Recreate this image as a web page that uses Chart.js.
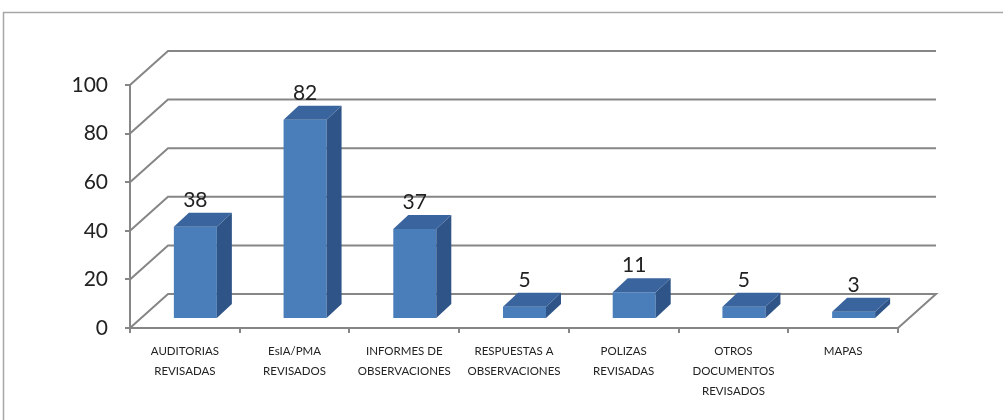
<!DOCTYPE html>
<html>
<head>
<meta charset="utf-8">
<script src="https://cdn.jsdelivr.net/npm/chart.js@4.4.1/dist/chart.umd.min.js"></script>
<style>
  html, body { margin: 0; padding: 0; background: #ffffff; }
  #wrap { width: 1003px; height: 420px; position: relative; }
</style>
</head>
<body>
<div id="wrap"><canvas id="c" width="1003" height="420"></canvas></div>
<script>
// ---- data ----
const categories = [
  ["AUDITORIAS", "REVISADAS"],
  ["EsIA/PMA", "REVISADOS"],
  ["INFORMES DE", "OBSERVACIONES"],
  ["RESPUESTAS A", "OBSERVACIONES"],
  ["POLIZAS", "REVISADAS"],
  ["OTROS", "DOCUMENTOS", "REVISADOS"],
  ["MAPAS"]
];
const values = [38, 82, 37, 5, 11, 5, 3];
const yTicks = [0, 20, 40, 60, 80, 100];

// ---- style ----
const FONT = "Lato, 'Open Sans', sans-serif";
const GRID = '#868686';
const wallDepth = { dx: 38, dy: -34 };
const barShift = { dx: 10.5, dy: -9 };
const barDepth = { dx: 15, dy: -14 };
const FRONT = '#4a7ebb';
const SIDE = '#2f5487';
const TOP = '#3a649e';

const threeD = {
  id: 'threeD',
  beforeDraw(chart) {
    const ctx = chart.ctx;
    ctx.save();
    ctx.fillStyle = '#ffffff';
    ctx.fillRect(0, 0, chart.width, chart.height);
    ctx.strokeStyle = '#a6a6a6';
    ctx.lineWidth = 1.5;
    ctx.strokeRect(3.5, 12.5, 1200, 600);
    ctx.restore();
  },
  beforeDatasetsDraw(chart) {
    const ctx = chart.ctx;
    const a = chart.chartArea;
    const ys = chart.scales.y;
    ctx.save();
    ctx.strokeStyle = GRID;
    ctx.lineWidth = 2;
    yTicks.forEach(v => {
      const y = ys.getPixelForValue(v);
      ctx.beginPath();
      ctx.moveTo(a.left, y);
      ctx.lineTo(a.left + wallDepth.dx, y + wallDepth.dy);
      ctx.lineTo(a.right + wallDepth.dx, y + wallDepth.dy);
      if (v === 0) ctx.lineTo(a.right, y);
      ctx.stroke();
    });
    ctx.restore();
    ctx.save();
    ctx.translate(barShift.dx, barShift.dy);
  },
  afterDatasetsDraw(chart) {
    const ctx = chart.ctx;
    const meta = chart.getDatasetMeta(0);
    meta.data.forEach((bar, i) => {
      const p = bar.getProps(['x', 'y', 'base', 'width'], true);
      const xl = p.x - p.width / 2, xr = p.x + p.width / 2;
      const yt = p.y, yb = p.base;
      ctx.fillStyle = SIDE;
      ctx.beginPath();
      ctx.moveTo(xr, yt);
      ctx.lineTo(xr + barDepth.dx, yt + barDepth.dy);
      ctx.lineTo(xr + barDepth.dx, yb + barDepth.dy);
      ctx.lineTo(xr, yb);
      ctx.closePath();
      ctx.fill();
      ctx.fillStyle = TOP;
      ctx.beginPath();
      ctx.moveTo(xl, yt);
      ctx.lineTo(xl + barDepth.dx, yt + barDepth.dy);
      ctx.lineTo(xr + barDepth.dx, yt + barDepth.dy);
      ctx.lineTo(xr, yt);
      ctx.closePath();
      ctx.fill();
      ctx.fillStyle = '#222222';
      ctx.font = '21px ' + FONT;
      ctx.textAlign = 'center';
      ctx.textBaseline = 'alphabetic';
      ctx.fillText(String(values[i]), p.x, yt + barDepth.dy - 6);
    });
    ctx.restore();
  }
};

new Chart(document.getElementById('c'), {
  type: 'bar',
  data: {
    labels: categories,
    datasets: [{
      data: values,
      backgroundColor: FRONT,
      borderWidth: 0,
      categoryPercentage: 1,
      barPercentage: 0.392,
      clip: false
    }]
  },
  options: {
    responsive: false,
    animation: false,
    events: [],
    layout: { padding: { left: 0, top: 85, right: 105, bottom: 0 } },
    plugins: { legend: { display: false }, tooltip: { enabled: false } },
    scales: {
      x: {
        afterFit(s) { s.height = 92; },
        grid: {
          offset: true, drawOnChartArea: false, tickLength: 5,
          color: GRID, lineWidth: 2
        },
        border: { display: true, color: GRID, width: 2 },
        ticks: {
          color: '#222222', padding: 9, maxRotation: 0, autoSkip: false,
          font: { family: FONT, size: 11.5, lineHeight: 1.7 }
        }
      },
      y: {
        min: 0, max: 100,
        afterFit(s) { s.width = 130; },
        afterBuildTicks(s) { s.ticks = yTicks.map(v => ({ value: v })); },
        grid: {
          drawOnChartArea: false, tickLength: 5,
          color: GRID, lineWidth: 2
        },
        border: { display: true, color: GRID, width: 2 },
        ticks: {
          color: '#222222', padding: 17,
          font: { family: FONT, size: 21 }
        }
      }
    }
  },
  plugins: [threeD]
});
</script>
</body>
</html>
